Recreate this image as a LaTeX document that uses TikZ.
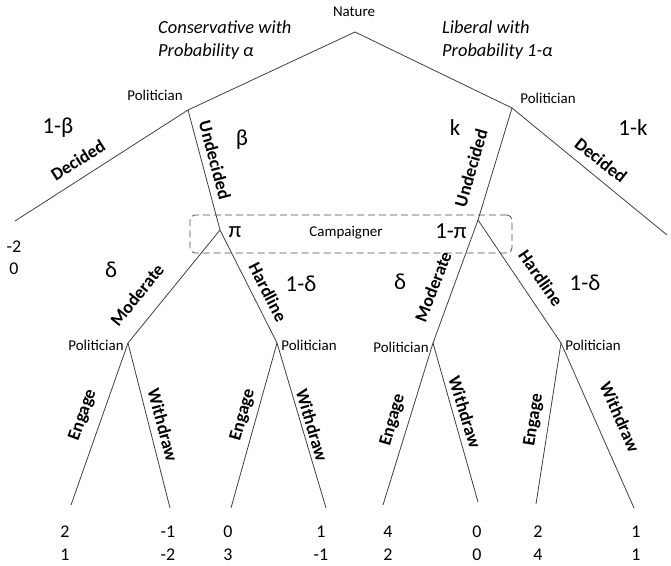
\documentclass[tikz,border=0pt]{standalone}
\usepackage{fontspec}
\setmainfont{Carlito}
\begin{document}
\begin{tikzpicture}[x=1bp,y=-1bp,
  edge/.style={draw=black!75, line width=0.8bp},
  lbl/.style={font=\fontsize{18}{20}\selectfont\bfseries, inner sep=0},
  small/.style={font=\fontsize{15}{17}\selectfont, inner sep=0},
  prob/.style={font=\fontsize{23}{26}\selectfont, inner sep=0},
  pay/.style={font=\fontsize{18}{23}\selectfont, inner sep=0, align=center},
  ital/.style={font=\fontsize{18.5}{22.5}\selectfont\itshape, inner sep=0, align=left, anchor=north west},
  campbox/.style={draw=black!70, dashed, dash pattern=on 7bp off 4bp, rounded corners=5bp, line width=0.8bp}
]
\useasboundingbox (0,0) rectangle (671,566);
% decision points
\coordinate (nat) at (355,32);
\coordinate (pc) at (188,110);
\coordinate (pl) at (512,108);
\coordinate (dl) at (15,221);
\coordinate (dr) at (667,235);
\coordinate (cp) at (220,230);
\coordinate (cq) at (478,220);
\coordinate (n1) at (128,343);
\coordinate (n2) at (277,343);
\coordinate (n3) at (433,343);
\coordinate (n4) at (561,343);
\coordinate (l1) at (71,505);
\coordinate (l2) at (170,508);
\coordinate (l3) at (231,508);
\coordinate (l4) at (326,508);
\coordinate (l5) at (383,505);
\coordinate (l6) at (478,502);
\coordinate (l7) at (536,504);
\coordinate (l8) at (634,508);

% information set
\node[campbox, minimum width=322bp, minimum height=38bp] (box) at (351,234) {};

% edges
\draw[edge] (nat) -- (pc);
\draw[edge] (nat) -- (pl);
\draw[edge] (pc) -- (dl);
\draw[edge] (pc) -- (cp);
\draw[edge] (pl) -- (cq);
\draw[edge] (pl) -- (dr);
\draw[edge] (cp) -- (n1);
\draw[edge] (cp) -- (n2);
\draw[edge] (cq) -- (n3);
\draw[edge] (cq) -- (n4);
\draw[edge] (n1) -- (l1);
\draw[edge] (n1) -- (l2);
\draw[edge] (n2) -- (l3);
\draw[edge] (n2) -- (l4);
\draw[edge] (n3) -- (l5);
\draw[edge] (n3) -- (l6);
\draw[edge] (n4) -- (l7);
\draw[edge] (n4) -- (l8);

% player labels
\node[small] (tnat) at (354,12) {Nature};
\node[small] (tpc) at (155,95) {Politician};
\node[small] (tpl) at (548,98) {Politician};
\node[small] (tn1) at (96,345) {Politician};
\node[small] (tn2) at (309,345) {Politician};
\node[small] (tn3) at (401,347) {Politician};
\node[small] (tn4) at (593,345) {Politician};
\node[small] (tcamp) at (346,233) {Campaigner};

% nature labels
\node[ital] (tcons) at (158,21) {Conservative with\\Probability α};
\node[ital] (tlib) at (442,21) {Liberal with\\Probability 1-α};

% probabilities
\node[prob] (p1) at (58,128) {1-β};
\node[prob] (p2) at (242,140) {β};
\node[prob] (p3) at (455,128) {k};
\node[prob] (p4) at (633,128) {1-k};
\node[prob] (p5) at (235,232) {π};
\node[prob] (p6) at (451,231) {1-π};
\node[prob] (p7) at (111,270) {δ};
\node[prob] (p8) at (301,284) {1-δ};
\node[prob] (p9) at (400,282) {δ};
\node[prob] (p10) at (585,283) {1-δ};

% action labels
\node[lbl, rotate=32.5] (a1) at (78,160) {Decided};
\node[lbl, rotate=-75] (a2) at (215,160) {Undecided};
\node[lbl, rotate=74] (a3) at (471,168) {Undecided};
\node[lbl, rotate=-38.5] (a4) at (601,160) {Decided};
\node[lbl, rotate=51] (a5) at (137,295) {Moderate};
\node[lbl, rotate=-63] (a6) at (268,292) {Hardline};
\node[lbl, rotate=69] (a7) at (433,287) {Moderate};
\node[lbl, rotate=-55] (a8) at (541,278) {Hardline};
\node[lbl, rotate=70] (e1) at (83,415) {Engage};
\node[lbl, rotate=-75] (w1) at (163,425) {Withdraw};
\node[lbl, rotate=74] (e2) at (243,415) {Engage};
\node[lbl, rotate=-73.5] (w2) at (312,425) {Withdraw};
\node[lbl, rotate=74] (e3) at (393,420) {Engage};
\node[lbl, rotate=-73] (w3) at (465,412) {Withdraw};
\node[lbl, rotate=81] (e4) at (534,420) {Engage};
\node[lbl, rotate=-66] (w4) at (620,417) {Withdraw};

% payoffs
\node[pay] (y0a) at (14,247) {-2};
\node[pay] (y0b) at (14,269) {0};
\node[pay] (y1) at (65,543) {2\\1};
\node[pay] (y2) at (168,543) {-1\\-2};
\node[pay] (y3) at (228,543) {0\\3};
\node[pay] (y4) at (321,543) {1\\-1};
\node[pay] (y5) at (388,543) {4\\2};
\node[pay] (y6) at (477,543) {0\\0};
\node[pay] (y7) at (538,543) {2\\4};
\node[pay] (y8) at (636,543) {1\\1};
\end{tikzpicture}
\end{document}
